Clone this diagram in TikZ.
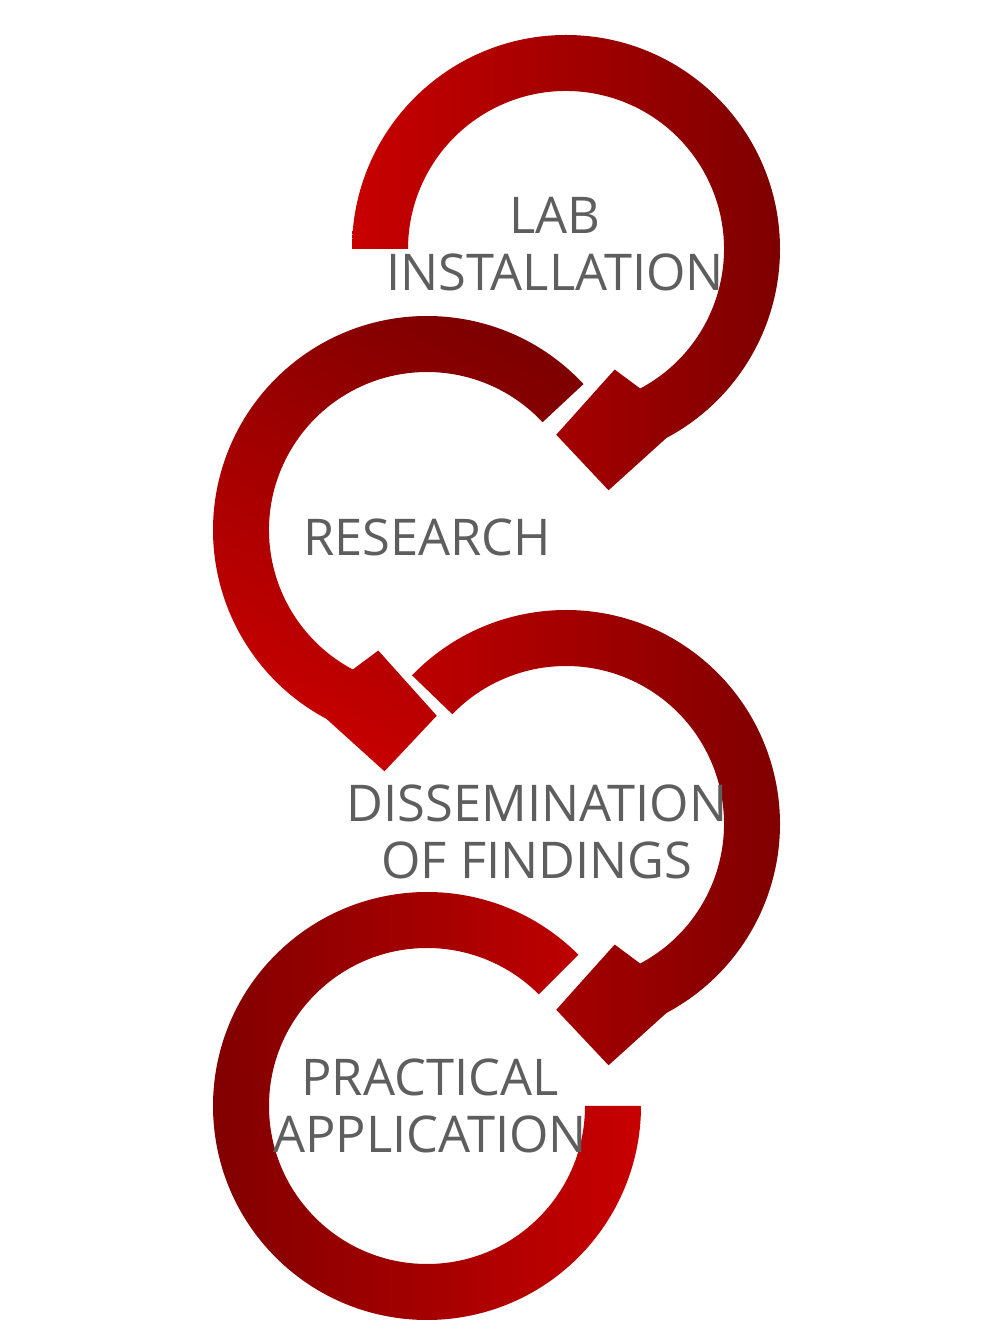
\documentclass[tikz,border=0pt]{standalone}
\usepackage{fontspec}
\setmainfont{Open Sans}
\definecolor{rbright}{HTML}{C80000}
\definecolor{rdark}{HTML}{7E0000}
\definecolor{txt}{HTML}{5E5E5E}
\tikzset{lbl/.style={text=txt,font=\fontsize{36}{41}\selectfont,align=center,inner sep=0pt}}
\begin{document}
\begin{tikzpicture}[x=0.025cm,y=0.025cm]
\useasboundingbox (0,0) rectangle (1008,1344);
% ring 1 (clockwise, flat start)
\begin{scope}[shift={(566,1095)}]
\shade[left color=rbright,right color=rdark] (180:214) arc[start angle=180,end angle=-62,radius=214] -- (-80:245) -- (-93:186) -- (-68:130) -- (-62:158) arc[start angle=-62,end angle=180,radius=158] -- cycle;
\end{scope}
% ring 2 (counterclockwise)
\begin{scope}[shift={(427,814)}]
\shade[top color=rdark,bottom color=rbright,shading angle=-30] (43:214) arc[start angle=43,end angle=242,radius=214] -- (-100:245) -- (-87:186) -- (-112:130) -- (242:158) arc[start angle=242,end angle=43,radius=158] -- cycle;
\end{scope}
% ring 3 (clockwise)
\begin{scope}[shift={(566,520)}]
\shade[left color=rbright!85!rdark,right color=rdark] (136:214) arc[start angle=136,end angle=-62,radius=214] -- (-80:245) -- (-93:186) -- (-68:130) -- (-62:158) arc[start angle=-62,end angle=136,radius=158] -- cycle;
\end{scope}
% ring 4 (counterclockwise, flat end)
\begin{scope}[shift={(427,238)}]
\shade[left color=rdark,right color=rbright] (45:214) arc[start angle=45,end angle=360,radius=214] -- (0:158) arc[start angle=360,end angle=45,radius=158] -- cycle;
\end{scope}
\node[lbl] (lab) at (555,1100) {LAB\\INSTALLATION};
\node[lbl] (res) at (427,807) {RESEARCH};
\node[lbl] (dis) at (537,512) {DISSEMINATION\\OF FINDINGS};
\node[lbl] (pra) at (430,238) {PRACTICAL\\APPLICATION};
\end{tikzpicture}
\end{document}
